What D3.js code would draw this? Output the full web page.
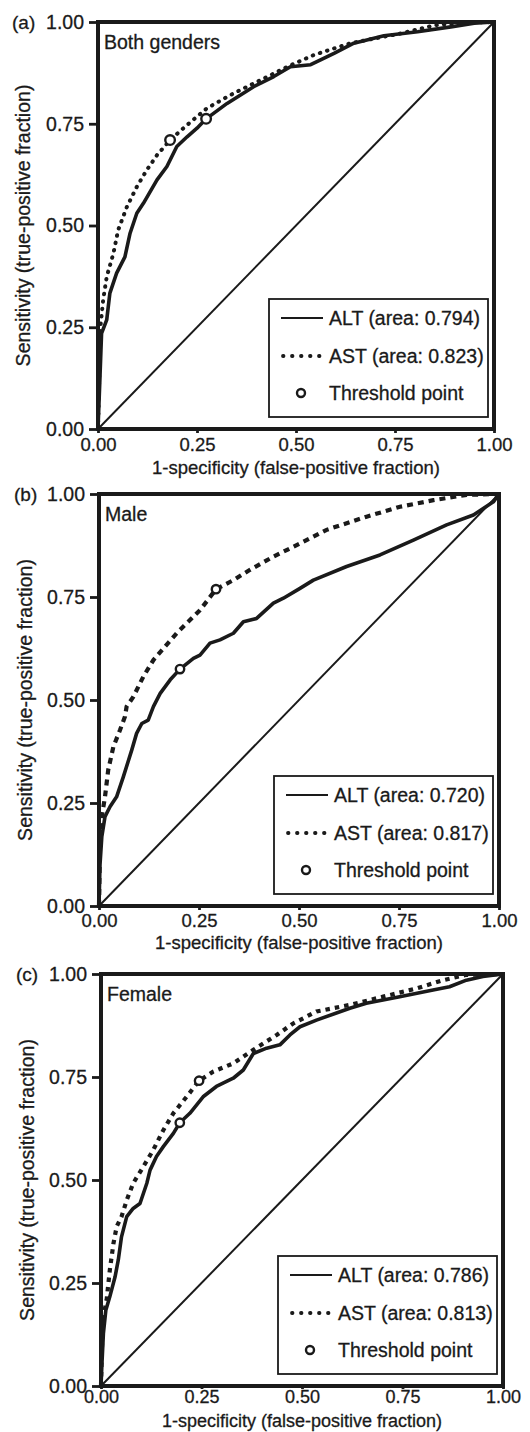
<!DOCTYPE html>
<html lang="en">
<head>
    <meta charset="UTF-8">
    <title>ROC curves ALT / AST</title>
    <script src="https://d3js.org/d3.v7.min.js"></script>
    <style>
        body { margin: 0; background: #fff; }
        text { font-family: "Liberation Sans", Arial, sans-serif; fill: #1a1a1a; stroke: #1a1a1a; stroke-width: 0.3px; }
    </style>
</head>
<body>
    <script>
        // ROC curves, three panels (both genders / male / female)
        // points are [1-specificity, sensitivity]
        var bothALT = [[0,0],[0.005,0.128],[0.009,0.235],[0.022,0.268],[0.03,0.334],[0.047,0.383],
            [0.068,0.423],[0.081,0.481],[0.098,0.53],[0.115,0.555],[0.149,0.612],[0.174,0.645],
            [0.199,0.694],[0.225,0.718],[0.25,0.739],[0.273,0.762],[0.326,0.80],[0.393,0.841],
            [0.444,0.866],[0.486,0.89],[0.537,0.895],[0.562,0.907],[0.596,0.923],[0.646,0.948],
            [0.722,0.966],[0.807,0.976],[0.891,0.988],[0.95,0.997],[1,1]];
        var bothAST = [[0,0],[0.003,0.12],[0.005,0.194],[0.005,0.24],[0.013,0.317],[0.022,0.374],
            [0.039,0.432],[0.051,0.489],[0.073,0.546],[0.098,0.595],[0.123,0.636],[0.149,0.673],
            [0.182,0.71],[0.225,0.747],[0.275,0.788],[0.343,0.825],[0.41,0.857],[0.478,0.89],
            [0.545,0.919],[0.638,0.948],[0.765,0.972],[0.85,0.992],[0.92,0.998],[1,1]];

        var maleALT = [[0,0],[0.0025,0.10],[0.007,0.168],[0.015,0.217],[0.0275,0.241],[0.044,0.265],
            [0.061,0.314],[0.082,0.379],[0.094,0.419],[0.107,0.443],[0.123,0.451],[0.136,0.484],
            [0.153,0.516],[0.178,0.549],[0.2025,0.575],[0.236,0.601],[0.2525,0.609],[0.2775,0.638],
            [0.3025,0.646],[0.336,0.662],[0.361,0.69],[0.394,0.698],[0.436,0.735],[0.461,0.747],
            [0.5025,0.771],[0.536,0.791],[0.619,0.824],[0.7025,0.852],[0.786,0.888],[0.869,0.925],
            [0.936,0.949],[0.986,0.981],[1,1]];
        var maleAST = [[0,0],[0.0025,0.168],[0.007,0.217],[0.015,0.265],[0.023,0.33],[0.036,0.387],
            [0.0525,0.427],[0.065,0.46],[0.069,0.484],[0.086,0.508],[0.111,0.557],[0.136,0.597],
            [0.161,0.625],[0.194,0.662],[0.219,0.686],[0.2525,0.718],[0.2925,0.769],[0.336,0.791],
            [0.3775,0.816],[0.436,0.848],[0.5025,0.88],[0.569,0.913],[0.669,0.945],[0.7525,0.969],
            [0.836,0.985],[0.919,0.998],[1,1]];

        var femaleALT = [[0,0],[0.002,0.047],[0.006,0.128],[0.012,0.184],[0.022,0.217],[0.035,0.265],
            [0.043,0.306],[0.051,0.362],[0.064,0.411],[0.08,0.431],[0.097,0.443],[0.114,0.492],
            [0.122,0.524],[0.138,0.557],[0.155,0.581],[0.18,0.613],[0.196,0.639],[0.221,0.662],
            [0.254,0.702],[0.287,0.727],[0.329,0.747],[0.354,0.767],[0.379,0.807],[0.412,0.82],
            [0.445,0.828],[0.47,0.852],[0.495,0.872],[0.536,0.888],[0.619,0.917],[0.66,0.929],
            [0.743,0.945],[0.826,0.961],[0.867,0.969],[0.909,0.985],[0.95,0.994],[1,1]];
        var femaleAST = [[0,0],[0.002,0.087],[0.006,0.168],[0.014,0.209],[0.022,0.282],[0.031,0.346],
            [0.039,0.387],[0.051,0.411],[0.064,0.451],[0.08,0.492],[0.105,0.532],[0.13,0.573],
            [0.155,0.621],[0.18,0.662],[0.213,0.702],[0.244,0.741],[0.279,0.763],[0.329,0.783],
            [0.379,0.816],[0.437,0.852],[0.478,0.88],[0.536,0.909],[0.619,0.925],[0.702,0.945],
            [0.785,0.965],[0.851,0.985],[0.909,0.998],[1,1]];

        // threshold points: [ALT point, AST point]
        var bothThreshold = [[0.273,0.762],[0.182,0.71]];
        var maleThreshold = [[0.2025,0.575],[0.2925,0.769]];
        var femaleThreshold = [[0.196,0.639],[0.244,0.741]];

        var panelLetters = ['(a)', '(b)', '(c)'];
        var panelNames = ['Both genders', 'Male', 'Female'];
        var altAreas = ['0.794', '0.720', '0.786'];
        var astAreas = ['0.823', '0.817', '0.813'];
        var axisTicks = [0, 0.25, 0.5, 0.75, 1];

        var w = 530;
        var h = 1432;

        // plot frame of each panel, measured on the scan
        var frames = [
            { left: 98, top: 22, width: 396, height: 407, tickLen: 4, tickPad: 5, titleOff: 45, xFont: 18.5, astDash: '0.5 7', astCap: 'round', astWidth: 4, r: 4.8 },
            { left: 99, top: 494, width: 400, height: 412, tickLen: 4, tickPad: 4, titleOff: 43, xFont: 18.5, astDash: '6 5', astCap: 'butt', astWidth: 4.2, r: 4.2 },
            { left: 101, top: 974, width: 402, height: 412, tickLen: 3, tickPad: 1, titleOff: 41, xFont: 18, astDash: '4.5 5', astCap: 'butt', astWidth: 4.2, r: 4.2 }
        ];
        var altSets = [bothALT, maleALT, femaleALT];
        var astSets = [bothAST, maleAST, femaleAST];
        var thrSets = [bothThreshold, maleThreshold, femaleThreshold];

        var svg = d3.select('body')
                    .append('svg')
                    .attr('width', w)
                    .attr('height', h);

        var fmt = d3.format('.2f');

        frames.forEach(function(f, i) {
            var g = svg.append('g')
                       .attr('transform', 'translate(' + f.left + ',' + f.top + ')');

            var xScale = d3.scaleLinear().domain([0, 1]).range([0, f.width]);
            var yScale = d3.scaleLinear().domain([0, 1]).range([f.height, 0]);

            var line = d3.line()
                         .x(function(d) { return xScale(d[0]); })
                         .y(function(d) { return yScale(d[1]); });

            // axes
            var yAxis = d3.axisLeft(yScale)
                          .tickValues(axisTicks)
                          .tickSize(9)
                          .tickPadding(5)
                          .tickFormat(fmt);
            var xAxis = d3.axisBottom(xScale)
                          .tickValues(axisTicks)
                          .tickSize(f.tickLen)
                          .tickPadding(f.tickPad)
                          .tickFormat(fmt);

            var ya = g.append('g').call(yAxis);
            var xa = g.append('g')
                      .attr('transform', 'translate(0,' + f.height + ')')
                      .call(xAxis);
            [ya, xa].forEach(function(a) {
                a.select('.domain').remove();
                a.selectAll('line').attr('stroke', '#1a1a1a').attr('stroke-width', 2.8);
                a.selectAll('text')
                 .attr('font-size', 19.5)
                 .style('font-family', '"Liberation Sans", Arial, sans-serif')
                 .attr('fill', '#1a1a1a');
            });
            xa.selectAll('text').attr('font-size', f.xFont);

            // diagonal chance line
            g.append('line')
             .attr('x1', xScale(0)).attr('y1', yScale(0))
             .attr('x2', xScale(1)).attr('y2', yScale(1))
             .attr('stroke', '#1a1a1a')
             .attr('stroke-width', 2);

            // curves
            g.append('path')
             .datum(altSets[i])
             .attr('d', line)
             .attr('fill', 'none')
             .attr('stroke', '#1a1a1a')
             .attr('stroke-width', 3.6)
             .attr('stroke-linejoin', 'round');

            g.append('path')
             .datum(astSets[i])
             .attr('d', line)
             .attr('fill', 'none')
             .attr('stroke', '#1a1a1a')
             .attr('stroke-width', f.astWidth)
             .attr('stroke-dasharray', f.astDash)
             .attr('stroke-linecap', f.astCap);

            g.selectAll('.thr')
             .data(thrSets[i])
             .enter()
             .append('circle')
             .attr('class', 'thr')
             .attr('cx', function(d) { return xScale(d[0]); })
             .attr('cy', function(d) { return yScale(d[1]); })
             .attr('r', f.r)
             .attr('fill', '#fff')
             .attr('stroke', '#1a1a1a')
             .attr('stroke-width', 2.4);

            // frame
            g.append('rect')
             .attr('x', 0).attr('y', 0)
             .attr('width', f.width).attr('height', f.height)
             .attr('fill', 'none')
             .attr('stroke', '#1a1a1a')
             .attr('stroke-width', 4);

            // legend box
            var lw = 219, lh = 118;
            var lg = g.append('g')
                      .attr('transform', 'translate(' + (f.width - lw - 6) + ',' + (f.height - lh - 12) + ')');
            lg.append('rect')
              .attr('width', lw).attr('height', lh)
              .attr('fill', '#fff')
              .attr('stroke', '#1a1a1a')
              .attr('stroke-width', 1.8);
            lg.append('line')
              .attr('x1', 12).attr('x2', 54).attr('y1', 19).attr('y2', 19)
              .attr('stroke', '#1a1a1a').attr('stroke-width', 2.2);
            lg.append('line')
              .attr('x1', 14).attr('x2', 54).attr('y1', 57).attr('y2', 57)
              .attr('stroke', '#1a1a1a').attr('stroke-width', 3.8)
              .attr('stroke-dasharray', '0.5 8.5').attr('stroke-linecap', 'round');
            lg.append('circle')
              .attr('cx', 32).attr('cy', 94).attr('r', 4)
              .attr('fill', '#fff').attr('stroke', '#1a1a1a').attr('stroke-width', 2.4);
            var labels = ['ALT (area: ' + altAreas[i] + ')', 'AST (area: ' + astAreas[i] + ')', 'Threshold point'];
            lg.selectAll('.lt')
              .data(labels)
              .enter()
              .append('text')
              .attr('class', 'lt')
              .attr('x', 60)
              .attr('y', function(d, j) { return 19 + j * 37.5 + 7; })
              .attr('font-size', 19.5)
              .text(function(d) { return d; });

            // panel texts
            g.append('text')
             .attr('x', 6).attr('y', 27)
             .attr('font-size', 19.5)
             .text(panelNames[i]);
            g.append('text')
             .attr('x', -f.left + 12 + i * 2).attr('y', 7)
             .attr('font-size', 19)
             .text(panelLetters[i]);
            g.append('text')
             .attr('x', f.width / 2).attr('y', f.height + f.titleOff)
             .attr('text-anchor', 'middle')
             .attr('font-size', f.xFont)
             .text('1-specificity (false-positive fraction)');
            g.append('text')
             .attr('transform', 'translate(' + (-f.left + 30 + i * 2) + ',' + (f.height / 2) + ') rotate(-90)')
             .attr('text-anchor', 'middle')
             .attr('font-size', 19.5)
             .text('Sensitivity (true-positive fraction)');
        });
    </script>
</body>
</html>
